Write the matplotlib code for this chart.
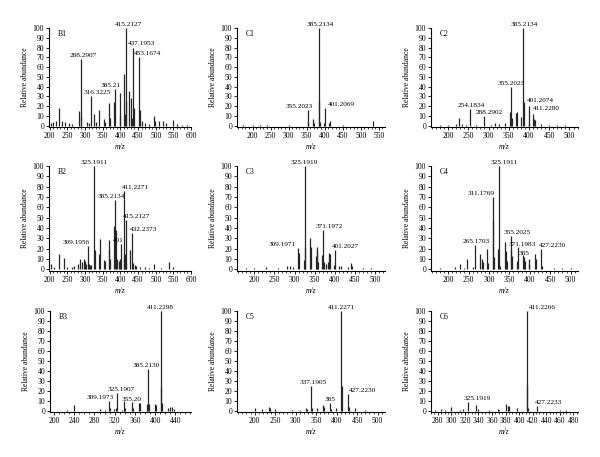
import matplotlib
matplotlib.use("Agg")
import matplotlib.pyplot as plt
from matplotlib.ticker import MultipleLocator

# ---- data ----
b1_mz = [205, 210, 218, 226, 235, 242, 255, 262, 282, 288,
         290, 305, 310, 316, 325, 331, 340, 353, 357, 368,
         371, 383, 385, 398, 400, 411, 413, 415, 417, 425,
         431, 433, 437, 439, 453, 455, 460, 470, 480, 495,
         497, 510, 520, 530, 550, 560, 575, 590]
b1_int = [3, 4, 5, 18, 5, 4, 3, 2, 15, 68,
          10, 4, 3, 30, 12, 4, 16, 7, 4, 23,
          8, 24, 37, 33, 11, 53, 12, 100, 25, 35,
          28, 8, 80, 18, 70, 16, 5, 3, 2, 10,
          5, 5, 5, 3, 6, 2, 1, 1]
b1_labels = ["288.2907", "316.3225", "385.21", "415.2127", "437.1953", "453.1674"]
b1_label_mz = [288, 316, 385, 415, 437, 453]

c1_mz = [175, 200, 222, 240, 300, 353, 355, 367, 370, 384,
         385, 387, 399, 401, 413, 415, 450, 535]
c1_int = [1, 1, 1, 1, 1, 4, 16, 7, 3, 25,
          100, 4, 3, 18, 3, 5, 1, 5]
c1_labels = ["385.2134", "355.2023", "401.2069"]
c1_label_mz = [385, 355, 401]

c2_mz = [180, 200, 220, 228, 235, 245, 254, 270, 288, 305,
         315, 325, 340, 353, 355, 357, 369, 371, 381, 385,
         387, 399, 401, 411, 413, 415, 430, 450, 470, 490]
c2_int = [1, 1, 2, 8, 2, 1, 17, 1, 10, 1,
          3, 2, 3, 14, 40, 8, 13, 14, 9, 100,
          24, 3, 20, 12, 7, 6, 2, 1, 1, 1]
c2_labels = ["385.2134", "355.2023", "254.1834", "288.2902", "401.2074", "411.2280"]
c2_label_mz = [385, 355, 254, 288, 401, 411]

b2_mz = [205, 212, 226, 241, 250, 262, 270, 280, 285, 292,
         297, 300, 303, 309, 311, 315, 318, 325, 327, 339,
         341, 355, 357, 367, 369, 371, 383, 385, 387, 391,
         397, 399, 401, 409, 411, 413, 415, 417, 427, 432,
         437, 441, 445, 455, 470, 480, 495, 515, 537, 548]
b2_int = [5, 2, 15, 11, 2, 2, 3, 5, 10, 7,
          10, 8, 5, 23, 5, 4, 4, 100, 19, 15,
          29, 9, 8, 20, 28, 10, 42, 67, 38, 10,
          8, 10, 25, 13, 76, 15, 48, 6, 19, 35,
          6, 4, 3, 2, 2, 1, 5, 1, 7, 2]
b2_labels = ["325.1911", "411.2271", "385.2134", "415.2127", "432.2373", "401", "309.1956"]
b2_label_mz = [325, 411, 385, 415, 432, 401, 309]

c3_mz = [180, 200, 228, 260, 282, 290, 297, 309, 311, 323,
         325, 327, 339, 341, 353, 355, 357, 359, 369, 371,
         373, 379, 383, 385, 387, 399, 401, 411, 415, 432,
         440, 443, 470, 490]
c3_int = [1, 1, 2, 1, 3, 3, 2, 21, 16, 9,
          100, 22, 30, 22, 13, 19, 22, 7, 14, 38,
          7, 5, 7, 16, 15, 4, 19, 3, 3, 2,
          6, 3, 1, 1]
c3_labels = ["325.1919", "309.1971", "371.1972", "401.2027"]
c3_label_mz = [325, 309, 371, 401]

c4_mz = [180, 217, 228, 240, 247, 260, 265, 279, 282, 285,
         295, 297, 309, 311, 313, 323, 325, 327, 339, 341,
         345, 353, 355, 357, 369, 371, 383, 385, 387, 397,
         399, 413, 415, 427, 429, 460, 480, 500]
c4_int = [1, 2, 5, 1, 10, 2, 24, 15, 10, 7,
          20, 6, 48, 70, 12, 20, 100, 3, 27, 18,
          8, 19, 32, 13, 8, 22, 14, 12, 8, 5,
          10, 15, 10, 20, 3, 1, 1, 1]
c4_labels = ["325.1911", "311.1769", "265.1703", "355.2025", "371.1983", "385", "427.2230"]
c4_label_mz = [325, 311, 265, 355, 371, 385, 427]

b3_mz = [226, 240, 290, 300, 309, 311, 318, 323, 325, 334,
         339, 341, 355, 357, 369, 371, 383, 385, 387, 399,
         401, 411, 412, 413, 425, 429, 433, 437]
b3_int = [1, 6, 2, 1, 10, 3, 2, 3, 18, 1,
          10, 3, 9, 3, 8, 8, 7, 42, 7, 7,
          6, 100, 24, 8, 3, 4, 4, 2]
b3_labels = ["411.2298", "385.2130", "325.1907", "309.1973", "355.20"]
b3_label_mz = [411, 385, 325, 309, 355]

c5_mz = [200, 218, 235, 237, 250, 290, 310, 325, 327, 337,
         339, 353, 367, 369, 385, 387, 398, 411, 412, 427,
         429, 445, 470]
c5_int = [3, 2, 4, 3, 2, 1, 1, 3, 2, 25,
          3, 3, 6, 4, 8, 2, 3, 100, 25, 17,
          4, 3, 1]
c5_labels = ["411.2271", "337.1905", "385", "427.2230"]
c5_label_mz = [411, 337, 385, 427]

c6_mz = [276, 285, 290, 299, 313, 317, 325, 337, 339, 355,
         369, 371, 381, 383, 385, 397, 411, 412, 413, 427,
         460, 470]
c6_int = [1, 2, 1, 4, 1, 2, 9, 6, 2, 1,
          2, 1, 7, 5, 5, 3, 100, 26, 3, 5,
          1, 1]
c6_labels = ["411.2266", "325.1919", "427.2233"]
c6_label_mz = [411, 325, 427]

plt.rcParams["font.family"] = ["Liberation Serif", "DejaVu Serif"]
plt.rcParams["font.size"] = 5.5

PX = 0.72  # points per pixel at 100 dpi
W, H = 600, 457


def rect(left, right, top, bottom):
    return [left / W, 1 - bottom / H, (right - left) / W, (bottom - top) / H]


def draw_panel(fig, box, name, mz, inten, labels, label_mz, offsets,
               xlim, xticks, minor):
    ax = fig.add_axes(box)
    ax.vlines(mz, 0, inten, colors="#262626", linewidth=0.9)
    for text, m, (dx, dy) in zip(labels, label_mz, offsets):
        h = inten[mz.index(m)]
        ax.annotate(text, (m, h), xytext=(dx * PX, dy * PX),
                    textcoords="offset points", ha="center", va="bottom",
                    fontsize=5.2)
    ax.text(0.06, 0.94, name, transform=ax.transAxes, va="center")
    ax.set_xlim(*xlim)
    ax.set_ylim(-1.5, 100)
    ax.set_xticks(xticks)
    ax.xaxis.set_minor_locator(MultipleLocator(minor))
    ax.set_yticks(range(0, 101, 10))
    ax.spines[["top", "right"]].set_visible(False)
    for s in ("left", "bottom"):
        ax.spines[s].set_linewidth(0.8)
    ax.tick_params(direction="out", length=2, width=0.6, pad=1.5)
    ax.tick_params(which="minor", length=1.2, width=0.5)
    ax.set_xlabel("m/z", style="italic", labelpad=2)
    ax.set_ylabel("Relative abundance", labelpad=3)
    return ax


def main():
    fig = plt.figure(figsize=(6, 4.57), dpi=100)

    cols = [(49, 191), (237, 385), (431, 578)]
    rows = [(28, 127), (166, 271), (311, 412)]
    t50 = list(range(200, 601, 50))

    draw_panel(fig, rect(*cols[0], *rows[0]), "B1", b1_mz, b1_int,
               b1_labels, b1_label_mz,
               [(2, 1), (7, 1), (-4, 1), (3, 1), (8, 2), (8, 1)],
               (198, 600), t50, 10)
    draw_panel(fig, rect(*cols[1], *rows[0]), "C1", c1_mz, c1_int,
               c1_labels, c1_label_mz,
               [(1, 1), (-9, 1), (16, 1)],
               (157, 567), list(range(200, 551, 50)), 10)
    draw_panel(fig, rect(*cols[2], *rows[0]), "C2", c2_mz, c2_int,
               c2_labels, c2_label_mz,
               [(1, 1), (0, 1), (1, 1), (6, 1), (11, 3), (13, 3)],
               (158, 521), list(range(200, 501, 50)), 10)

    draw_panel(fig, rect(*cols[0], *rows[1]), "B2", b2_mz, b2_int,
               b2_labels, b2_label_mz,
               [(0, 1), (11, 1), (-4, 1), (11, 1), (12, 1), (-2, 1), (-12, 1)],
               (198, 600), t50, 10)
    draw_panel(fig, rect(*cols[1], *rows[1]), "C3", c3_mz, c3_int,
               c3_labels, c3_label_mz,
               [(0, 1), (-16, 1), (6, 1), (10, 1)],
               (157, 525), list(range(200, 501, 50)), 10)
    draw_panel(fig, rect(*cols[2], *rows[1]), "C4", c4_mz, c4_int,
               c4_labels, c4_label_mz,
               [(5, 1), (-12, 1), (2, 1), (6, 1), (4, 0), (0, 1), (12, 1)],
               (158, 518), list(range(200, 501, 50)), 10)

    draw_panel(fig, rect(50, 191, *rows[2]), "B3", b3_mz, b3_int,
               b3_labels, b3_label_mz,
               [(0, 1), (-1, 1), (4, 1), (-9, 1), (-1, 0)],
               (192, 471), list(range(200, 441, 40)), 10)
    draw_panel(fig, rect(*cols[1], *rows[2]), "C5", c5_mz, c5_int,
               c5_labels, c5_label_mz,
               [(0, 1), (2, 1), (0, 1), (15, 1)],
               (157, 518), list(range(200, 501, 50)), 10)
    draw_panel(fig, rect(*cols[2], *rows[2]), "C6", c6_mz, c6_int,
               c6_labels, c6_label_mz,
               [(16, 1), (9, 1), (11, 1)],
               (270, 487), list(range(280, 481, 20)), 5)

    fig.savefig("out.png", dpi=100)


if __name__ == "__main__":
    main()
